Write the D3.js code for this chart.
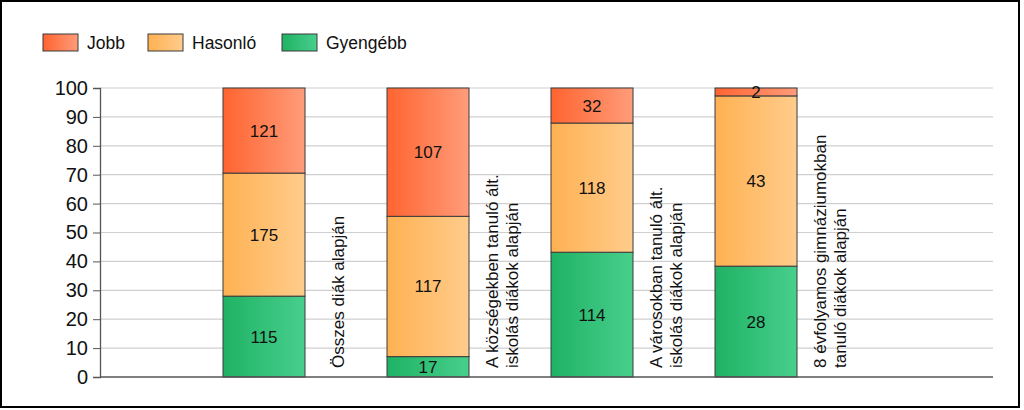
<!DOCTYPE html>
<html><head><meta charset="utf-8">
<script src="https://cdn.jsdelivr.net/npm/d3@7"></script>
<style>body{margin:0;background:#fff}svg{display:block;font-family:"Liberation Sans",Arial,sans-serif}</style>
</head><body><svg id="c" width="1024" height="410"></svg>
<script>
const categories = [
  ["Összes diák alapján"],
  ["A községekben tanuló ált.", "iskolás diákok alapján"],
  ["A városokban tanuló ált.", "iskolás diákok alapján"],
  ["8 évfolyamos gimnáziumokban", "tanuló diákok alapján"]
];
const seriesNames = ["Gyengébb", "Hasonló", "Jobb"];
const gyengebb = [115, 17, 114, 28];
const hasonlo = [175, 117, 118, 43];
const jobb = [121, 107, 32, 2];
const yTicks = [0,10,20,30,40,50,60,70,80,90,100];
const legendOrder = ["Jobb", "Hasonló", "Gyengébb"];
const colors = {
  "Jobb": ["#ff6430", "#ff9c7a"],
  "Hasonló": ["#ffb152", "#ffcc8c"],
  "Gyengébb": ["#1fb264", "#48cf8d"]
};

const svg = d3.select("#c");
const defs = svg.append("defs");
Object.entries(colors).forEach(([k, c], i) => {
  const g = defs.append("linearGradient").attr("id", "g" + i).attr("x1", "0").attr("x2", "1").attr("y1", "0").attr("y2", "0");
  g.append("stop").attr("offset", "0").attr("stop-color", c[0]);
  g.append("stop").attr("offset", "1").attr("stop-color", c[1]);
});
const gradId = k => "url(#g" + Object.keys(colors).indexOf(k) + ")";

svg.append("rect").attr("x", 1).attr("y", 1).attr("width", 1018).attr("height", 406)
  .attr("fill", "#fff").attr("stroke", "#000").attr("stroke-width", 2);

const pLeft = 100, pRight = 993, pTop = 88, pBottom = 377;
const y = d3.scaleLinear().domain([0, 100]).range([pBottom, pTop]);
const x = d3.scaleLinear().domain([0, 5.445]).range([pLeft, pRight]);
const barW = 82;

// grid
svg.append("g").selectAll("line").data(yTicks.filter(d => d > 0)).join("line")
  .attr("x1", pLeft).attr("x2", pRight).attr("y1", d => y(d)).attr("y2", d => y(d))
  .attr("stroke", "#cfcfcf").attr("stroke-width", 1.2);

// data
const raw = [gyengebb, hasonlo, jobb];
const rows = categories.map((c, i) => {
  const tot = gyengebb[i] + hasonlo[i] + jobb[i];
  const o = { i };
  seriesNames.forEach((s, k) => o[s] = raw[k][i] / tot * 100);
  o.counts = raw.map(r => r[i]);
  return o;
});
const stack = d3.stack().keys(seriesNames)(rows);

stack.forEach((layer, k) => {
  const g = svg.append("g");
  g.selectAll("rect").data(layer).join("rect")
    .attr("x", d => x(d.data.i + 1) - barW / 2)
    .attr("width", barW)
    .attr("y", d => y(d[1]))
    .attr("height", d => y(d[0]) - y(d[1]))
    .attr("fill", gradId(layer.key))
    .attr("stroke", "#3a3a3a").attr("stroke-width", 1);
  g.selectAll("text").data(layer).join("text")
    .attr("x", d => x(d.data.i + 1))
    .attr("y", d => (y(d[0]) + y(d[1])) / 2 + 6)
    .attr("text-anchor", "middle").attr("font-size", 17).attr("fill", "#111")
    .text(d => d.data.counts[k]);
});

// axes
const ya = svg.append("g").attr("transform", `translate(${pLeft},0)`)
  .call(d3.axisLeft(y).tickValues(yTicks).tickSize(7).tickPadding(5));
ya.select(".domain").attr("stroke", "#555").attr("stroke-width", 1.3);
ya.selectAll(".tick line").attr("stroke", "#555");
ya.selectAll("text").attr("font-size", 20).attr("fill", "#111").attr("font-family", "Liberation Sans, Arial, sans-serif");
svg.append("line").attr("x1", pLeft).attr("x2", pRight).attr("y1", pBottom).attr("y2", pBottom)
  .attr("stroke", "#555").attr("stroke-width", 1.5);

// category labels
categories.forEach((lines, i) => {
  const cx = x(i + 1) + 74;
  const t = svg.append("text").attr("transform", `translate(${cx},368) rotate(-90)`)
    .attr("font-size", 17).attr("fill", "#111");
  const lh = 20;
  lines.forEach((ln, j) => {
    t.append("tspan").attr("x", 0).attr("y", (j - (lines.length - 1) / 2) * lh + 6).text(ln);
  });
});

// legend
const legX = [43, 148, 282];
legendOrder.forEach((s, i) => {
  const g = svg.append("g").attr("transform", `translate(${legX[i]},34)`);
  g.append("rect").attr("width", 35).attr("height", 17).attr("fill", gradId(s))
    .attr("stroke", "#3a3a3a").attr("stroke-width", 1);
  g.append("text").attr("x", 44).attr("y", 15).attr("font-size", 17.5).attr("fill", "#111").text(s);
});
</script></body></html>
